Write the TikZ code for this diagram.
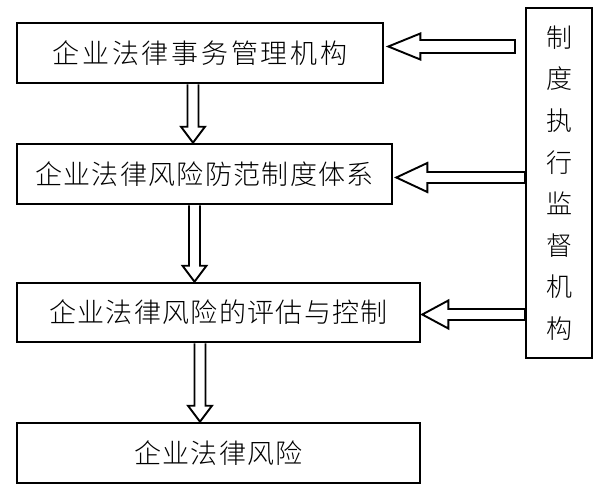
\documentclass[tikz,border=0pt]{standalone}
\usepackage{fontspec}
\setmainfont{Noto Sans CJK SC}[UprightFont=* Light]
\newfontfamily\boxfont{Noto Sans CJK SC}[UprightFont=* Light,LetterSpace=5]
\newfontfamily\boxfontwide{Noto Sans CJK SC}[UprightFont=* Light,LetterSpace=10]
\usetikzlibrary{calc}
\begin{document}
\begin{tikzpicture}[x=1pt,y=-1pt,
  box/.style={draw,line width=2.6pt,inner sep=0pt,minimum height=60pt,
    font=\boxfont\fontsize{27}{30}\selectfont},
  sidebox/.style={draw,line width=2pt,inner sep=0pt,minimum width=66pt,minimum height=350pt,
    align=center,font=\fontsize{26}{41.6}\selectfont},
  hollow/.style={draw,line width=1.9pt,miter limit=20}]
\useasboundingbox (0,0) rectangle (607,500);

\node[box,minimum width=366pt,font=\boxfontwide\fontsize{27}{30}\selectfont] (b1) at (200,53) {企业法律事务管理机构};
\node[box,minimum width=375pt] (b2) at (204.5,174) {企业法律风险防范制度体系};
\node[box,minimum width=403pt,minimum height=59pt] (b3) at (218.5,312.5) {企业法律风险的评估与控制};
\node[box,minimum width=403pt] (b4) at (218.5,453) {企业法律风险};
\node[sidebox] (r) at (559,183) {制\\度\\执\\行\\监\\督\\机\\构};
\coordinate (t1) at (515,46.5);

% hollow down arrows
\newcommand{\hdown}[3]{%
  \draw[hollow] let \p1=(#1.south), \p2=(#2.north) in
    (#3-5.5pt,\y1) -- (#3-5.5pt,\y2+16pt) -- (#3-12pt,\y2+16pt) -- (#3,\y2)
    -- (#3+12pt,\y2+16pt) -- (#3+5.5pt,\y2+16pt) -- (#3+5.5pt,\y1);}
\hdown{b1}{b2}{193pt}
\hdown{b2}{b3}{194.5pt}
\hdown{b3}{b4}{200pt}

% hollow left arrows: #1 box, #2 tail, #3 gap, #4 y offset, #5 shaft half, #6 head half, #7 head length
\newcommand{\hleft}[7]{%
  \draw[hollow] let \p1=(#1.east), \p2=(#2) in
    (\x2,\y1+#4+#5) -- (\x1+#3+#7,\y1+#4+#5) -- (\x1+#3+#7,\y1+#4+#6) -- (\x1+#3,\y1+#4)
    -- (\x1+#3+#7,\y1+#4-#6) -- (\x1+#3+#7,\y1+#4-#5) -- (\x2,\y1+#4-#5) -- cycle;}
\hleft{b1}{t1}{4pt}{6.5pt}{6.5pt}{13pt}{32pt}
\hleft{b2}{r.west|-b2.east}{3pt}{-3.5pt}{5.5pt}{14.5pt}{31pt}
\hleft{b3}{r.west|-b3.east}{1pt}{-2pt}{5.5pt}{14pt}{26pt}
\end{tikzpicture}
\end{document}
